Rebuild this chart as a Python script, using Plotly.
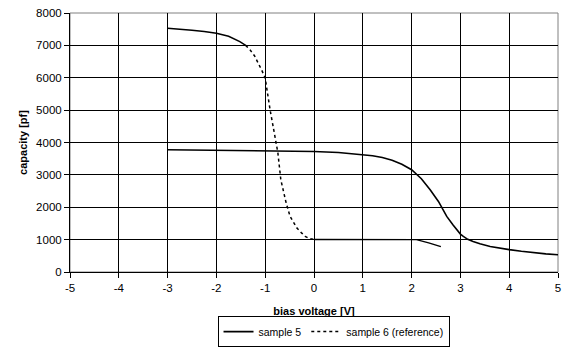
import plotly.graph_objects as go

# ---- data ----
s5_x = [-3.0, -2.5, -2.0, -1.5, -1.0, -0.5, 0.0, 0.5, 0.8, 1.0, 1.2, 1.4, 1.6, 1.8, 2.0, 2.2, 2.38, 2.55, 2.72, 2.85, 2.92, 3.0, 3.06, 3.15, 3.26, 3.4, 3.61, 3.8, 4.0, 4.25, 4.5, 4.75, 5.0]
s5_y = [3775, 3770, 3765, 3760, 3752, 3740, 3722, 3690, 3655, 3625, 3590, 3535, 3455, 3330, 3160, 2880, 2540, 2180, 1716, 1450, 1305, 1170, 1100, 1010, 945, 870, 790, 735, 690, 640, 595, 560, 535]

s6_x = [-3.0, -2.75, -2.5, -2.25, -2.0, -1.75, -1.52, -1.4, -1.31, -1.22, -1.14, -1.07, -1.0, -0.9, -0.8, -0.74, -0.68, -0.62, -0.57, -0.49, -0.42, -0.35, -0.25, -0.18, -0.1, 0.0, 0.5, 1.0, 1.5, 2.0, 2.1, 2.35, 2.6]
s6_y = [7530, 7510, 7470, 7430, 7376, 7280, 7117, 7000, 6860, 6680, 6450, 6230, 5990, 5010, 4185, 3680, 2850, 2450, 2130, 1716, 1520, 1358, 1200, 1100, 1040, 1005, 1000, 1000, 1000, 1000, 1000, 900, 785]

x_ticks = [-5, -4, -3, -2, -1, 0, 1, 2, 3, 4, 5]
y_ticks = [0, 1000, 2000, 3000, 4000, 5000, 6000, 7000, 8000]

series5_name = "sample 5"
series6_name = "sample 6 (reference)"
x_title = "bias voltage [V]"
y_title = "capacity [pf]"

FONT = "Liberation Sans, Arial, sans-serif"

fig = go.Figure()

fig.add_trace(go.Scatter(x=s5_x, y=s5_y, mode="lines", name=series5_name,
                         line=dict(color="black", width=1.6)))

# sample 6: dense-point regions render solid, steep part dashed
solid_a = [(x, y) for x, y in zip(s6_x, s6_y) if x <= -1.4]
dashed = [(x, y) for x, y in zip(s6_x, s6_y) if -1.4 <= x <= 0.0]
solid_b = [(x, y) for x, y in zip(s6_x, s6_y) if x >= 0.0]

fig.add_trace(go.Scatter(x=[p[0] for p in dashed], y=[p[1] for p in dashed], mode="lines",
                         name=series6_name, line=dict(color="black", width=1.5, dash="3px,3px")))
fig.add_trace(go.Scatter(x=[p[0] for p in solid_a], y=[p[1] for p in solid_a], mode="lines",
                         showlegend=False, line=dict(color="black", width=1.5)))
fig.add_trace(go.Scatter(x=[p[0] for p in solid_b], y=[p[1] for p in solid_b], mode="lines",
                         showlegend=False, line=dict(color="black", width=1.4)))

fig.update_layout(
    width=563, height=349,
    margin=dict(l=70, r=5, t=13, b=77, autoexpand=False),
    paper_bgcolor="white", plot_bgcolor="white",
    font=dict(family=FONT, size=11, color="black"),
    showlegend=True,
    legend=dict(orientation="h", x=0.54, xanchor="center", y=-0.29, yanchor="bottom",
                bordercolor="black", borderwidth=1, font=dict(size=10.5),
                itemwidth=30, tracegroupgap=0),
    shapes=[dict(type="rect", xref="paper", yref="paper", x0=0, x1=1, y0=0, y1=1,
                 line=dict(color="#808080", width=1), layer="below")],
)

fig.update_xaxes(range=[-5, 5], tickvals=x_ticks, ticktext=[str(v) for v in x_ticks],
                 showgrid=True, gridcolor="black", gridwidth=1,
                 showline=True, linecolor="black", linewidth=1,
                 ticks="outside", ticklen=5, tickcolor="black",
                 zeroline=False, tickfont=dict(size=11.5),
                 title=dict(text="<b>" + x_title + "</b>", standoff=14, font=dict(size=11)))
fig.update_yaxes(range=[0, 8000], tickvals=y_ticks, ticktext=[str(v) for v in y_ticks],
                 showgrid=True, gridcolor="black", gridwidth=1,
                 showline=True, linecolor="black", linewidth=1,
                 ticks="outside", ticklen=5, tickcolor="black",
                 zeroline=False, tickfont=dict(size=11.5),
                 title=dict(text="<b>" + y_title + "</b>", standoff=6, font=dict(size=11)))

fig.write_html("out.html")
